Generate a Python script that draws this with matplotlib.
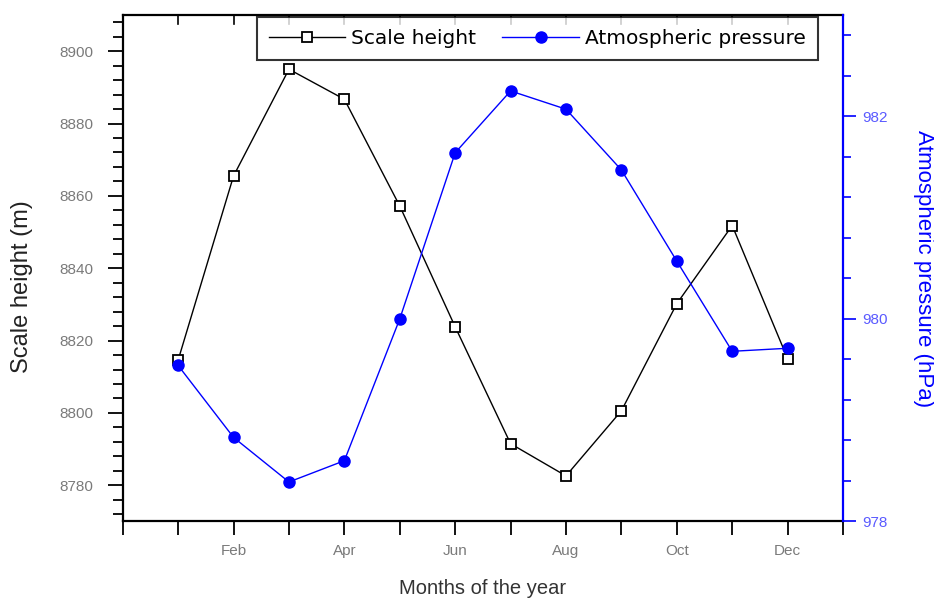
import matplotlib
matplotlib.use("Agg")
import matplotlib.pyplot as plt
from matplotlib.ticker import MultipleLocator, FixedLocator, FixedFormatter

plt.rcParams['font.family'] = ['Liberation Sans', 'DejaVu Sans']

months = [1, 2, 3, 4, 5, 6, 7, 8, 9, 10, 11, 12]
scale_height = [8814.6, 8865.5, 8895.0, 8886.7, 8857.2, 8823.8,
                8791.5, 8782.6, 8800.6, 8830.2, 8851.8, 8815.0]
pressure = [979.54, 978.83, 978.39, 978.60, 980.00, 981.64,
            982.25, 982.07, 981.47, 980.57, 979.68, 979.71]
month_ticks = [2, 4, 6, 8, 10, 12]
month_labels = ['Feb', 'Apr', 'Jun', 'Aug', 'Oct', 'Dec']

blue = '#0000ff'
tick_grey = '#7a7a7a'

fig = plt.figure(figsize=(9.34, 5.99), dpi=100)
ax = fig.add_axes([0.1314, 0.1294, 0.9026 - 0.1314, 0.975 - 0.1294])
ax2 = ax.twinx()

l1, = ax.plot(months, scale_height, color='black', lw=1.0, marker='s',
              markersize=7, markerfacecolor='white', markeredgecolor='black',
              markeredgewidth=1.3, label='Scale height', zorder=3)
l2, = ax2.plot(months, pressure, color=blue, lw=1.0, marker='o',
               markersize=8, markerfacecolor=blue, markeredgecolor=blue,
               label='Atmospheric pressure', zorder=3)

ax.set_xlim(0, 13)
ax.set_ylim(8770, 8910)
ax2.set_ylim(978, 983)

ax.xaxis.set_major_locator(FixedLocator(month_ticks))
ax.xaxis.set_major_formatter(FixedFormatter(month_labels))
ax.xaxis.set_minor_locator(FixedLocator([0, 1, 3, 5, 7, 9, 11, 13]))
ax.yaxis.set_major_locator(MultipleLocator(20))
ax.yaxis.set_minor_locator(MultipleLocator(4))
ax2.yaxis.set_major_locator(FixedLocator([978, 980, 982]))
ax2.yaxis.set_minor_locator(MultipleLocator(0.4))

ax.tick_params(axis='x', which='both', direction='out', length=10, width=1.3,
               top=False, labelsize=11, labelcolor=tick_grey, pad=6)
ax.tick_params(axis='y', which='major', direction='out', length=11, width=1.3,
               labelsize=11, labelcolor=tick_grey, pad=10)
ax.tick_params(axis='y', which='minor', direction='out', length=7, width=1.3)
ax2.tick_params(axis='y', which='major', direction='out', length=9, width=1.2,
                colors=blue, labelsize=11, labelcolor='#5a5aff', pad=5)
ax2.tick_params(axis='y', which='minor', direction='out', length=6, width=1.2,
                colors=blue)

# short inward ticks along the top edge
for xv in months:
    ax.plot([xv, xv], [8910, 8907.5], color='black', lw=1.2, clip_on=False,
            zorder=1)

for sp in ['left', 'bottom', 'top']:
    ax.spines[sp].set_linewidth(1.6)
ax.spines['right'].set_visible(False)
for sp in ['left', 'bottom', 'top']:
    ax2.spines[sp].set_visible(False)
ax2.spines['right'].set_color(blue)
ax2.spines['right'].set_linewidth(1.6)

ax.set_xlabel('Months of the year', fontsize=14.5, color='#333333')
ax.xaxis.set_label_coords(0.5, -0.114)
ax.set_ylabel('Scale height (m)', fontsize=17, color='#222222')
ax.yaxis.set_label_coords(-0.1245, 0.463)
ax2.set_ylabel('Atmospheric pressure (hPa)', fontsize=16, color=blue,
               rotation=270, va='center', ha='center')
ax2.yaxis.set_label_coords(1.112, 0.5)

leg = ax2.legend([l1, l2], ['Scale height', 'Atmospheric pressure'],
                 loc='upper center', bbox_to_anchor=(0.5755, 0.996), ncol=2,
                 frameon=True, fancybox=False,
                 prop={'family': 'DejaVu Sans', 'size': 14.5},
                 handlelength=3.8, handletextpad=0.3, columnspacing=1.3,
                 borderpad=0.6, borderaxespad=0.0)
leg.get_frame().set_edgecolor('black')
leg.get_frame().set_linewidth(1.5)

fig.savefig('out.png', dpi=100)
